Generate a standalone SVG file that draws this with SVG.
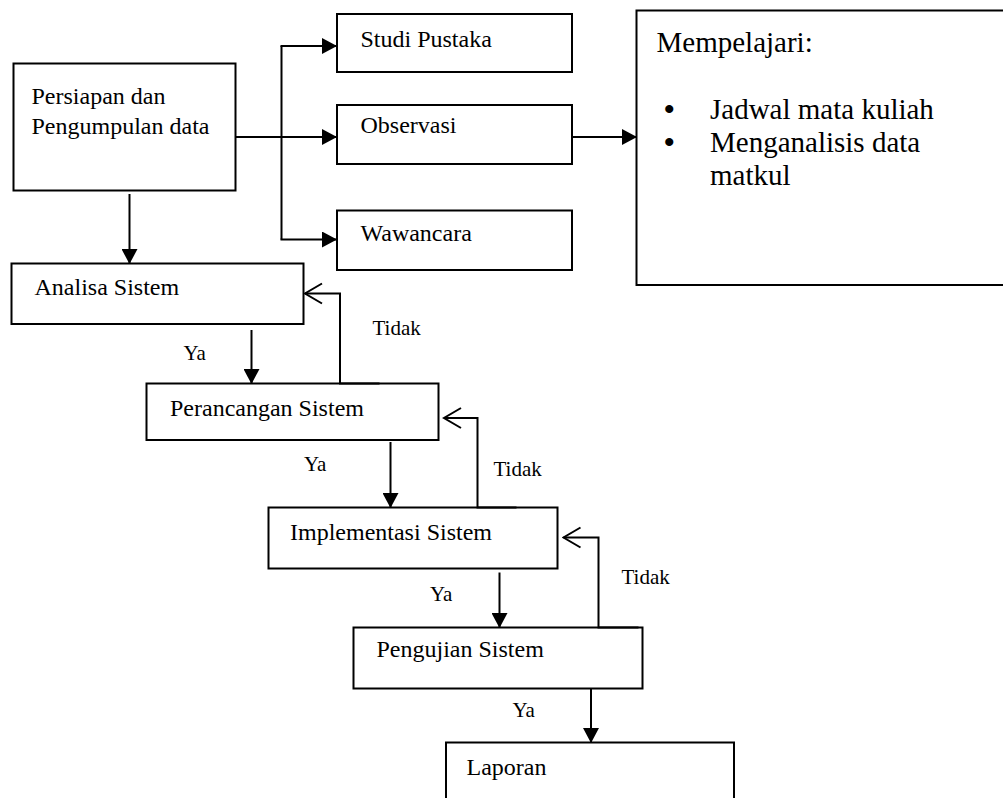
<svg xmlns="http://www.w3.org/2000/svg" width="1003" height="798" viewBox="0 0 1003 798">
  <style>
    .box { fill: #fff; stroke: #000; stroke-width: 2; }
    .line { fill: none; stroke: #000; stroke-width: 2; }
    .t { font-family: "Liberation Serif", "Times New Roman", serif; font-size: 24px; fill: #000; }
    .big { font-family: "Liberation Serif", "Times New Roman", serif; font-size: 29px; fill: #000; }
    .bullet { font-family: "Liberation Serif", "Times New Roman", serif; font-size: 30px; font-weight: bold; fill: #000; }
    .lbl { font-family: "Liberation Serif", "Times New Roman", serif; font-size: 21px; fill: #000; }
  </style>
  <defs>
    <marker id="solid" markerUnits="userSpaceOnUse" markerWidth="15" markerHeight="16" refX="14" refY="8" orient="auto">
      <path d="M0,0 L15,8 L0,16 z" fill="#000"/>
    </marker>
    <marker id="open" markerUnits="userSpaceOnUse" markerWidth="20" markerHeight="24" refX="18" refY="11" orient="auto">
      <path d="M1,1 L18,11 L1,21" fill="none" stroke="#000" stroke-width="2"/>
    </marker>
  </defs>

  <rect width="1003" height="798" fill="#fff"/>

  <!-- nodes -->
  <g id="persiapan">
    <rect class="box" x="13.5" y="63.5" width="222" height="127"/>
    <text class="t" x="31.5" y="104">Persiapan dan</text>
    <text class="t" x="31.5" y="134">Pengumpulan data</text>
  </g>
  <g id="studi-pustaka">
    <rect class="box" x="337" y="14" width="235" height="58"/>
    <text class="t" x="360.5" y="47">Studi Pustaka</text>
  </g>
  <g id="observasi">
    <rect class="box" x="337" y="105" width="235" height="59"/>
    <text class="t" x="360.5" y="132.5">Observasi</text>
  </g>
  <g id="wawancara">
    <rect class="box" x="337" y="210.5" width="235" height="59.5"/>
    <text class="t" x="360.5" y="241">Wawancara</text>
  </g>
  <g id="mempelajari">
    <rect class="box" x="636.5" y="10.5" width="380" height="274.5"/>
    <text class="big" x="656.5" y="51.5">Mempelajari:</text>
    <text class="bullet" x="664" y="118.5">•</text>
    <text class="big" x="710" y="118.5">Jadwal mata kuliah</text>
    <text class="bullet" x="664" y="152">•</text>
    <text class="big" x="710" y="152">Menganalisis data</text>
    <text class="big" x="710" y="185">matkul</text>
  </g>
  <g id="analisa">
    <rect class="box" x="11.5" y="263.5" width="292" height="60.5"/>
    <text class="t" x="34.5" y="295">Analisa Sistem</text>
  </g>
  <g id="perancangan">
    <rect class="box" x="146.5" y="383.5" width="292" height="56.5"/>
    <text class="t" x="170" y="415.5">Perancangan Sistem</text>
  </g>
  <g id="implementasi">
    <rect class="box" x="268.5" y="507.5" width="289" height="61"/>
    <text class="t" x="290" y="540">Implementasi Sistem</text>
  </g>
  <g id="pengujian">
    <rect class="box" x="353.5" y="627.5" width="289" height="61"/>
    <text class="t" x="376.5" y="656.5">Pengujian Sistem</text>
  </g>
  <g id="laporan">
    <rect class="box" x="446" y="742.5" width="288" height="70"/>
    <text class="t" x="466.5" y="775">Laporan</text>
  </g>

  <!-- connectors -->
  <g id="connectors">
    <path class="line" d="M236,137 L336,137" marker-end="url(#solid)"/>
    <path class="line" d="M281.5,46 L281.5,239.5"/>
    <path class="line" d="M280.5,46 L336,46" marker-end="url(#solid)"/>
    <path class="line" d="M280.5,239.5 L336,239.5" marker-end="url(#solid)"/>
    <path class="line" d="M572,137 L636,137" marker-end="url(#solid)"/>
    <path class="line" d="M129.5,194 L129.5,263" marker-end="url(#solid)"/>
    <path class="line" d="M251.5,330 L251.5,383" marker-end="url(#solid)"/>
    <path class="line" d="M390.5,442 L390.5,507" marker-end="url(#solid)"/>
    <path class="line" d="M499.5,572.5 L499.5,627" marker-end="url(#solid)"/>
    <path class="line" d="M591,688 L591,742" marker-end="url(#solid)"/>

    <path class="line" d="M379.5,383.5 L340,383.5 L340,293.5 L305,293.5" marker-end="url(#open)"/>
    <path class="line" d="M516.5,507.5 L477.5,507.5 L477.5,418 L444,418" marker-end="url(#open)"/>
    <path class="line" d="M638.5,627.5 L598.5,627.5 L598.5,537.5 L563.5,537.5" marker-end="url(#open)"/>
  </g>

  <!-- branch labels -->
  <g id="labels">
    <text class="lbl" x="372.5" y="335">Tidak</text>
    <text class="lbl" x="493.5" y="476">Tidak</text>
    <text class="lbl" x="621.5" y="584">Tidak</text>
    <text class="lbl" x="183.5" y="359.5">Ya</text>
    <text class="lbl" x="304" y="471">Ya</text>
    <text class="lbl" x="430" y="601">Ya</text>
    <text class="lbl" x="512.5" y="717">Ya</text>
  </g>
</svg>
